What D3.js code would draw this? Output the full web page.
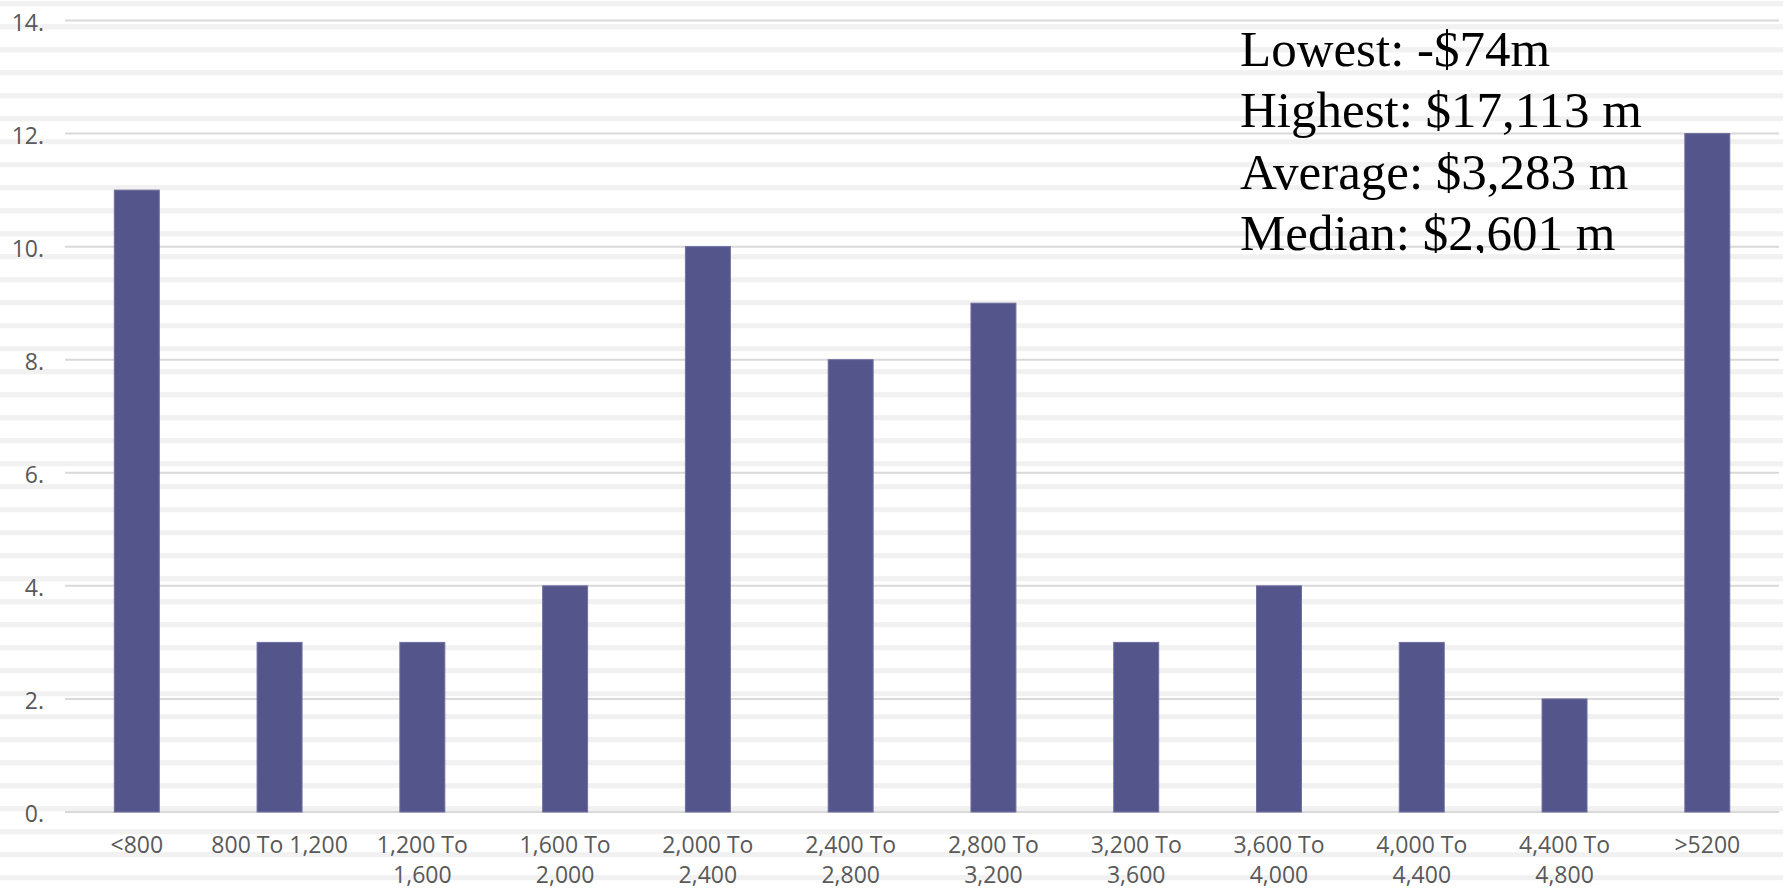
<!DOCTYPE html>
<html>
<head>
<meta charset="utf-8">
<script src="https://cdn.jsdelivr.net/npm/d3@7"></script>
<style>
  html, body { margin: 0; padding: 0; background: #ffffff; }
  svg { display: block; }
</style>
</head>
<body>
<svg id="chart" width="1783" height="889"></svg>
<script>
// Count of companies per revenue band ($m)
const categories = ["<800", "800 To 1,200", "1,200 To 1,600", "1,600 To 2,000", "2,000 To 2,400",
  "2,400 To 2,800", "2,800 To 3,200", "3,200 To 3,600", "3,600 To 4,000", "4,000 To 4,400",
  "4,400 To 4,800", ">5200"];
const counts = [11, 3, 3, 4, 10, 8, 9, 3, 4, 3, 2, 12];
const yTicks = [0, 2, 4, 6, 8, 10, 12, 14];
const summaryLines = ["Lowest: -$74m", "Highest: $17,113 m", "Average: $3,283 m", "Median: $2,601 m"];

const W = 1783, H = 889;
const svg = d3.select("#chart");

// faint horizontal banding across the whole canvas
svg.append("g").selectAll("rect")
  .data(d3.range(3.7, H + 12, 23))
  .join("rect")
  .attr("x", 0).attr("width", W)
  .attr("y", d => d - 2.5).attr("height", 5)
  .attr("fill", "#f1f1f1");

const x = d3.scaleBand()
  .domain(categories)
  .range([65.4, 1778.7])
  .paddingInner(0.685)
  .paddingOuter(0.3425);

const y = d3.scaleLinear().domain([0, 14]).range([812, 20.5]);

// gridlines
svg.append("g").selectAll("line")
  .data(yTicks)
  .join("line")
  .attr("x1", 65).attr("x2", 1779)
  .attr("y1", d => y(d)).attr("y2", d => y(d))
  .attr("stroke", "#d9d9d9").attr("stroke-width", 2);

// y axis labels
const yAxis = d3.axisLeft(y).tickValues(yTicks).tickFormat(d => d + ".").tickSize(0).tickPadding(0);
const gy = svg.append("g").attr("transform", "translate(44,0)").call(yAxis);
gy.select(".domain").remove();
gy.selectAll("text")
  .attr("font-family", "'Open Sans', sans-serif")
  .attr("font-size", 23)
  .attr("fill", "#595959")
  .attr("dy", null)
  .attr("dominant-baseline", "central")
  .attr("y", 0.5);

// bars
svg.append("g").selectAll("rect")
  .data(counts)
  .join("rect")
  .attr("x", (d, i) => x(categories[i]))
  .attr("width", x.bandwidth())
  .attr("y", d => y(d))
  .attr("height", d => y(0) - y(d))
  .attr("fill", "#54558a")
  .attr("stroke", "#6f70a0")
  .attr("stroke-width", 1);

// x axis labels, wrapped to the band step
const xAxis = d3.axisBottom(x).tickSize(0).tickPadding(0);
const gx = svg.append("g").attr("transform", "translate(0,812)").call(xAxis);
gx.select(".domain").remove();
gx.selectAll("text")
  .attr("font-family", "'Open Sans', sans-serif")
  .attr("font-size", 23)
  .attr("fill", "#595959")
  .attr("y", 41)
  .attr("dy", null)
  .each(function (d) {
    const t = d3.select(this);
    const words = d.split(" ");
    const maxW = x.step();
    const lines = [];
    let cur = [];
    t.text(null);
    const probe = t.append("tspan");
    words.forEach(w => {
      const trial = cur.concat([w]).join(" ");
      probe.text(trial);
      if (probe.node().getComputedTextLength() > maxW && cur.length) {
        lines.push(cur.join(" "));
        cur = [w];
      } else {
        cur.push(w);
      }
    });
    lines.push(cur.join(" "));
    probe.remove();
    lines.forEach((ln, i) => {
      t.append("tspan").attr("x", 0).attr("y", 41 + i * 30).text(ln);
    });
  });

// summary text block
svg.append("clipPath").attr("id", "summaryClip")
  .append("rect").attr("x", 1200).attr("y", 0).attr("width", 583).attr("height", 253);
svg.append("g").attr("clip-path", "url(#summaryClip)")
  .selectAll("text")
  .data(summaryLines)
  .join("text")
  .attr("x", 1240)
  .attr("y", (d, i) => 66 + i * 61.3)
  .attr("font-family", "'Liberation Serif', 'Times New Roman', serif")
  .attr("font-size", 51)
  .attr("fill", "#000000")
  .text(d => d);
</script>
</body>
</html>
